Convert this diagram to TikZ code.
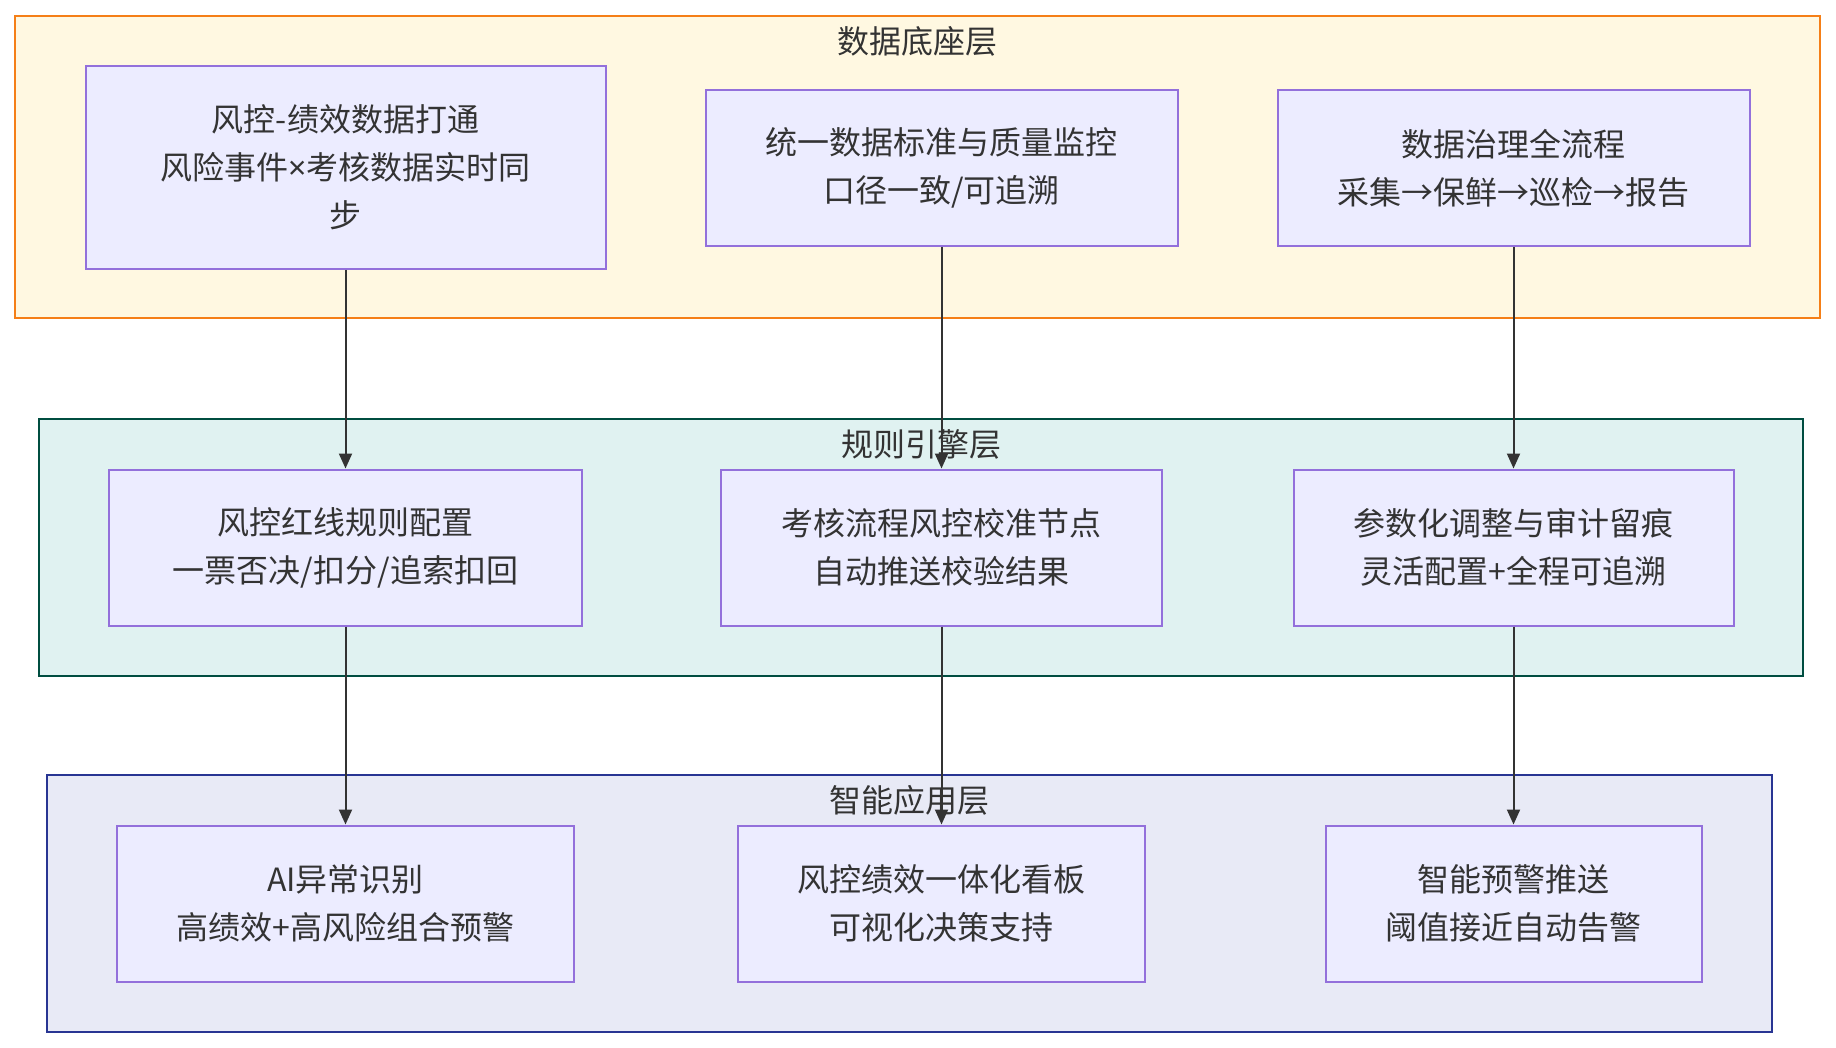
\documentclass[tikz,border=0pt]{standalone}
\usepackage{fontspec}
\setmainfont{Noto Sans CJK SC}
\newfontfamily\latinfont{Noto Sans}
\usetikzlibrary{arrows.meta}
\definecolor{txt}{HTML}{333333}
\definecolor{nodefill}{HTML}{ECECFF}
\definecolor{nodeline}{HTML}{9370DB}
\definecolor{datafill}{HTML}{FFF8E1}
\definecolor{dataline}{HTML}{F57F17}
\definecolor{rulefill}{HTML}{E0F2F1}
\definecolor{ruleline}{HTML}{004D40}
\definecolor{appfill}{HTML}{E8EAF6}
\definecolor{appline}{HTML}{283593}
\definecolor{arrowc}{HTML}{333333}
\begin{document}
\begin{tikzpicture}[x=1pt,y=-1pt,
  layer/.style={line width=2pt, inner sep=0pt},
  item/.style={draw=nodeline, fill=nodefill, line width=2pt, align=center, text=txt,
    font=\fontsize{32}{48}\selectfont, inner sep=0pt},
  ttl/.style={text=txt, font=\fontsize{32}{40}\selectfont, inner sep=0pt},
  flow/.style={draw=arrowc, line width=2pt, -{Triangle[length=15pt,width=13pt]}}]
\useasboundingbox[fill=white] (0,0) rectangle (1836,1048);
% layers
\node[layer, draw=dataline, fill=datafill, minimum width=1805pt, minimum height=302pt] (L1) at (917.5,167) {};
\node[layer, draw=ruleline, fill=rulefill, minimum width=1764pt, minimum height=257pt] (L2) at (921,547.5) {};
\node[layer, draw=appline, fill=appfill, minimum width=1725pt, minimum height=257pt] (L3) at (909.5,903.5) {};
\node[ttl] (T1) at (917.5,41) {数据底座层};
\node[ttl] (T2) at (921,444) {规则引擎层};
\node[ttl] (T3) at (909.5,800) {智能应用层};
% data layer
\node[item, minimum width=520pt, minimum height=203pt] (a1) at (345.5,167.5) {风控-绩效数据打通\\风险事件{\latinfont ×}考核数据实时同\\步};
\node[item, minimum width=472pt, minimum height=156pt] (a2) at (941.5,168) {统一数据标准与质量监控\\口径一致/可追溯};
\node[item, minimum width=472pt, minimum height=156pt] (a3) at (1513.5,168) {数据治理全流程\\采集→保鲜→巡检→报告};
% rule layer
\node[item, minimum width=473pt, minimum height=156pt] (b1) at (345.5,547.5) {风控红线规则配置\\一票否决/扣分/追索扣回};
\node[item, minimum width=441pt, minimum height=156pt] (b2) at (941.5,547.5) {考核流程风控校准节点\\自动推送校验结果};
\node[item, minimum width=440pt, minimum height=156pt] (b3) at (1513.5,547.5) {参数化调整与审计留痕\\灵活配置+全程可追溯};
% app layer
\node[item, minimum width=457pt, minimum height=156pt] (c1) at (345.5,903.5) {AI异常识别\\高绩效+高风险组合预警};
\node[item, minimum width=407pt, minimum height=156pt] (c2) at (941.5,903.5) {风控绩效一体化看板\\可视化决策支持};
\node[item, minimum width=376pt, minimum height=156pt] (c3) at (1513.5,903.5) {智能预警推送\\阈值接近自动告警};
% connectors
\draw[flow] (a1.south) -- (b1.north);
\draw[flow] (a2.south) -- (b2.north);
\draw[flow] (a3.south) -- (b3.north);
\draw[flow] (b1.south) -- (c1.north);
\draw[flow] (b2.south) -- (c2.north);
\draw[flow] (b3.south) -- (c3.north);
\end{tikzpicture}
\end{document}
